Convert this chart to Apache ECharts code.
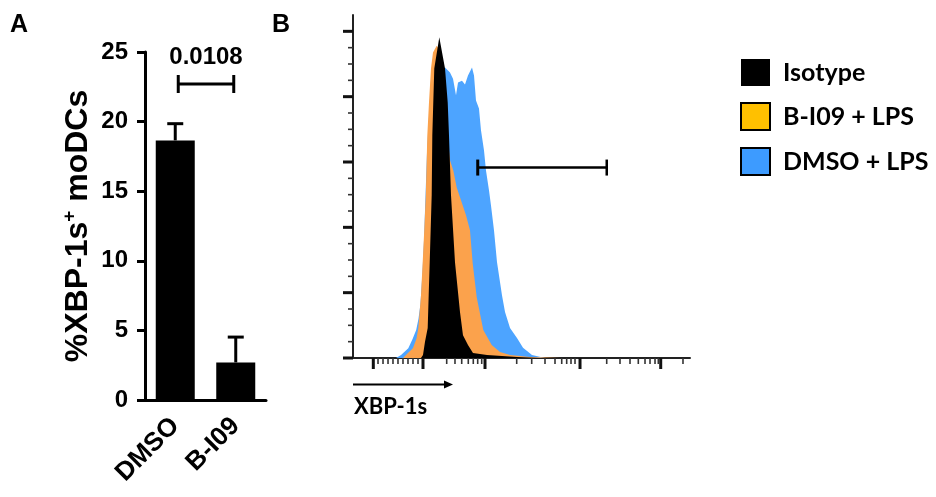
<!DOCTYPE html>
<html>
<head>
<meta charset="utf-8">
<script src="https://cdn.jsdelivr.net/npm/echarts@6/dist/echarts.min.js"></script>
<style>
  html, body { margin: 0; padding: 0; background: #fff; }
  #chart { width: 936px; height: 497px; }
</style>
</head>
<body>
<div id="chart"></div>
<script>
// ---- Panel A: % XBP-1s+ moDCs (mean + SEM) ----
const groups = ['DMSO', 'B-I09'];
const meanPct = [18.65, 2.7];
const semPct = [1.2, 1.82];
const yTicksA = [0, 5, 10, 15, 20, 25];
const pValue = '0.0108';
const bracketLevel = 22.7;

// ---- Panel B: XBP-1s histograms, [channel, % of max] ----
const isotype = [
  [206.6, 0], [212.7, 0.9], [218.8, 5.0], [227, 9.2], [230, 19.3], [233.1, 29.3],
  [239.1, 49.8], [241, 68.1], [247, 88.6], [262.2, 98.2], [279.6, 88.6], [287.8, 78.2],
  [291.7, 68.1], [297.8, 49.8], [309.9, 29.3], [325.1, 14.1], [334.2, 7.0], [349.4, 4.0],
  [364.6, 1.5], [407.2, 0.9], [498.3, 0.3], [568.2, 0]
];
const bi09Lps = [
  [152, 0], [167, 1.5], [182, 3.0], [193, 6.0], [198.4, 9.1], [206.6, 19.2],
  [211.8, 29.4], [216.7, 39.6], [221.2, 49.8], [225.8, 68.1], [230.9, 78.2],
  [237, 88.6], [243.1, 93.5], [254.3, 95.6], [264.4, 94.1], [279.6, 81.9], [288.7, 66.6],
  [294.7, 60.5], [304.8, 57.4], [315.1, 52.2], [325.1, 49.2], [343.4, 43.7], [355.5, 39.1],
  [363.7, 29.0], [375.9, 18.6], [395.9, 8.6], [421.5, 4.0], [446.7, 1.8], [477.1, 0.9],
  [537.8, 0.3], [629, 0]
];
const dmsoLps = [
  [130.7, 0], [146, 0.9], [168, 3.0], [181, 5.8], [192, 8.6], [199, 12.0],
  [205, 16.5], [211, 26], [215.7, 36], [224.9, 63], [237, 85], [252, 90], [267.4, 88],
  [279.6, 88.9], [294.7, 87.4], [303.9, 85.5], [313, 80.4], [319.1, 84.3], [331.2, 84.9],
  [340.3, 83.7], [349.4, 86.5], [361.6, 88.9], [367.7, 86.5], [373.7, 78.8], [382.8, 76.4],
  [388.9, 69.7], [398, 63.6], [404.1, 57.4], [413.3, 51.3], [419.3, 46.7], [428.4, 39.1],
  [437.6, 29.3], [452.7, 19.2], [461.9, 14.1], [477.1, 9.2], [498.3, 6.1], [516.6, 3.1],
  [543.9, 0.9], [583.4, 0]
];
const gateRange = [379, 771];
const gateLevel = 58.3;

// Biexponential-style axis tick marks (channel units) and count-axis ticks (%)
const xMajorTicks = [61.7, 212.7, 401.1, 689.8, 935.0];
const xMinorTicks = [
  76, 91.2, 106.4, 121.5, 136.7, 151.9, 167.1, 182.3, 197.5,
  284.7, 309.9, 330.3, 350.3, 365.5, 378.9, 391.1,
  497.4, 543, 583.4, 613.8, 634.2, 649.3, 662.4, 674.6,
  770.9, 811.3, 841.7, 866.9, 887.3, 902.5, 917.7, 927.7,
  1002.7
];
const yMajorTicks = [0, 20, 40, 60, 80, 100];
const yMinorTicks = [5, 10, 15, 25, 30, 35, 45, 50, 55, 65, 70, 75, 85, 90, 95];

const seriesNames = ['Isotype', 'B-I09 + LPS', 'DMSO + LPS'];
const fillColors = ['#000000', '#FBA24C', '#4DA4FF'];
const legendColors = ['#000000', '#FFC000', '#3D9BFF'];

const ARIAL = '"Liberation Sans", Arial, sans-serif';
const HUMANIST = 'Lato, "Open Sans", sans-serif';

const chart = echarts.init(document.getElementById('chart'), null, { renderer: 'canvas' });

const tickData = []
  .concat(xMajorTicks.map(v => [0, v, 1]))
  .concat(xMinorTicks.map(v => [0, v, 0]))
  .concat(yMajorTicks.map(v => [1, v, 1]))
  .concat(yMinorTicks.map(v => [1, v, 0]));

const option = {
  animation: false,
  backgroundColor: '#ffffff',
  grid: [
    { left: 145, right: 670, top: 52, bottom: 97 },
    { left: 353, right: 246, top: 15, bottom: 139 }
  ],
  xAxis: [
    {
      gridIndex: 0, type: 'category', data: groups,
      axisLine: { lineStyle: { color: '#000', width: 3 } },
      axisTick: { show: false },
      axisLabel: {
        rotate: 45, margin: 22, color: '#000',
        fontFamily: ARIAL, fontWeight: 'bold', fontSize: 26
      }
    },
    {
      gridIndex: 1, type: 'value', min: 0, max: 1024,
      axisLine: { onZero: false, lineStyle: { color: '#222', width: 2 } },
      axisTick: { show: false }, axisLabel: { show: false }, splitLine: { show: false }
    }
  ],
  yAxis: [
    {
      gridIndex: 0, type: 'value',
      min: yTicksA[0], max: yTicksA[yTicksA.length - 1], interval: yTicksA[1] - yTicksA[0],
      axisLine: { show: true, lineStyle: { color: '#000', width: 3 } },
      axisTick: { show: true, length: 8, lineStyle: { color: '#000', width: 3 } },
      axisLabel: {
        margin: 17, color: '#000',
        fontFamily: ARIAL, fontWeight: 'bold', fontSize: 24
      },
      splitLine: { show: false },
      name: '{a|%XBP-1s}{sup|+}{a| moDCs}',
      nameLocation: 'middle', nameRotate: 90, nameGap: 49,
      nameTextStyle: {
        rich: {
          a: { fontFamily: ARIAL, fontWeight: 'bold', fontSize: 32, color: '#000', lineHeight: 36 },
          sup: { fontFamily: ARIAL, fontWeight: 'bold', fontSize: 19, color: '#000', verticalAlign: 'top', lineHeight: 36 }
        }
      }
    },
    {
      gridIndex: 1, type: 'value', min: 0, max: 105,
      axisLine: { show: true, onZero: false, lineStyle: { color: '#222', width: 2 } },
      axisTick: { show: false }, axisLabel: { show: false }, splitLine: { show: false }
    }
  ],
  legend: {
    orient: 'vertical', left: 740, top: 59, padding: 0,
    itemWidth: 29, itemHeight: 27, itemGap: 16,
    icon: 'rect', selectedMode: false,
    textStyle: { fontFamily: HUMANIST, fontWeight: 'bold', fontSize: 25, color: '#000', padding: [0, 0, 0, 8] },
    data: [
      { name: seriesNames[0], itemStyle: { color: legendColors[0], borderWidth: 0 } },
      { name: seriesNames[1], itemStyle: { color: legendColors[1], borderColor: '#000', borderWidth: 2 } },
      { name: seriesNames[2], itemStyle: { color: legendColors[2], borderColor: '#000', borderWidth: 2 } }
    ]
  },
  series: [
    // Panel A bars
    {
      type: 'bar', xAxisIndex: 0, yAxisIndex: 0, data: meanPct, barWidth: 39,
      itemStyle: { color: '#000' }, silent: true
    },
    // Panel A SEM whiskers
    {
      type: 'custom', xAxisIndex: 0, yAxisIndex: 0, silent: true, z: 3,
      data: groups.map((g, i) => [i, meanPct[i], meanPct[i] + semPct[i]]),
      renderItem: function (params, api) {
        const base = api.coord([api.value(0), api.value(1)]);
        const top = api.coord([api.value(0), api.value(2)]);
        const w = 8;
        const style = { stroke: '#000', lineWidth: 3 };
        return {
          type: 'group', children: [
            { type: 'line', shape: { x1: top[0], y1: base[1], x2: top[0], y2: top[1] }, style: style },
            { type: 'line', shape: { x1: top[0] - w, y1: top[1], x2: top[0] + w, y2: top[1] }, style: style }
          ]
        };
      }
    },
    // Panel A significance bracket and p value
    {
      type: 'custom', xAxisIndex: 0, yAxisIndex: 0, silent: true, z: 3,
      data: [[0, 1, bracketLevel]],
      renderItem: function (params, api) {
        const a = api.coord([api.value(0), api.value(2)]);
        const b = api.coord([api.value(1), api.value(2)]);
        const x1 = a[0] + 3, x2 = b[0] - 2, y = a[1];
        const style = { stroke: '#000', lineWidth: 3 };
        return {
          type: 'group', children: [
            { type: 'line', shape: { x1: x1, y1: y, x2: x2, y2: y }, style: style },
            { type: 'line', shape: { x1: x1, y1: y - 9, x2: x1, y2: y + 9 }, style: style },
            { type: 'line', shape: { x1: x2, y1: y - 9, x2: x2, y2: y + 9 }, style: style },
            {
              type: 'text',
              style: {
                x: (x1 + x2) / 2, y: y - 27, text: pValue, align: 'center', verticalAlign: 'middle',
                fill: '#000', font: 'bold 24px ' + ARIAL
              }
            }
          ]
        };
      }
    },
    // Panel B histograms (back to front)
    {
      type: 'line', name: seriesNames[2], xAxisIndex: 1, yAxisIndex: 1, data: dmsoLps,
      symbol: 'none', showSymbol: false, silent: true, z: 2,
      lineStyle: { width: 0, color: fillColors[2] }, itemStyle: { color: fillColors[2] },
      areaStyle: { color: fillColors[2], opacity: 1 }
    },
    {
      type: 'line', name: seriesNames[1], xAxisIndex: 1, yAxisIndex: 1, data: bi09Lps,
      symbol: 'none', showSymbol: false, silent: true, z: 3,
      lineStyle: { width: 0, color: fillColors[1] }, itemStyle: { color: fillColors[1] },
      areaStyle: { color: fillColors[1], opacity: 1 }
    },
    {
      type: 'line', name: seriesNames[0], xAxisIndex: 1, yAxisIndex: 1, data: isotype,
      symbol: 'none', showSymbol: false, silent: true, z: 4,
      lineStyle: { width: 0, color: fillColors[0] }, itemStyle: { color: fillColors[0] },
      areaStyle: { color: fillColors[0], opacity: 1 }
    },
    // Panel B gate
    {
      type: 'custom', xAxisIndex: 1, yAxisIndex: 1, silent: true, z: 6,
      data: [[gateRange[0], gateRange[1], gateLevel]],
      renderItem: function (params, api) {
        const a = api.coord([api.value(0), api.value(2)]);
        const b = api.coord([api.value(1), api.value(2)]);
        const style = { stroke: '#000', lineWidth: 2.5 };
        return {
          type: 'group', children: [
            { type: 'line', shape: { x1: a[0], y1: a[1], x2: b[0], y2: b[1] }, style: style },
            { type: 'line', shape: { x1: a[0], y1: a[1] - 8, x2: a[0], y2: a[1] + 8 }, style: { stroke: '#000', lineWidth: 3 } },
            { type: 'line', shape: { x1: b[0], y1: b[1] - 8, x2: b[0], y2: b[1] + 8 }, style: style }
          ]
        };
      }
    },
    // Panel B axis tick marks
    {
      type: 'custom', xAxisIndex: 1, yAxisIndex: 1, silent: true, z: 1, clip: false,
      data: tickData,
      renderItem: function (params, api) {
        const isY = api.value(0) === 1;
        const v = api.value(1);
        const major = api.value(2) === 1;
        const len = major ? 10 : 5;
        const style = { stroke: major ? '#111' : '#333', lineWidth: major ? 3 : 1.6 };
        if (isY) {
          const p = api.coord([0, v]);
          return { type: 'line', shape: { x1: p[0] - len, y1: p[1], x2: p[0], y2: p[1] }, style: style };
        }
        const p = api.coord([v, 0]);
        return { type: 'line', shape: { x1: p[0], y1: p[1], x2: p[0], y2: p[1] + len + 1 }, style: style };
      }
    }
  ],
  graphic: [
    { type: 'text', left: 10, top: 13, style: { text: 'A', font: 'bold 25px ' + ARIAL, fill: '#000' } },
    { type: 'text', left: 272, top: 13, style: { text: 'B', font: 'bold 25px ' + ARIAL, fill: '#000' } },
    { type: 'line', shape: { x1: 353, y1: 384.5, x2: 446, y2: 384.5 }, style: { stroke: '#000', lineWidth: 2 } },
    { type: 'polygon', shape: { points: [[444, 380.5], [453, 384.5], [444, 388.5]] }, style: { fill: '#000' } },
    { type: 'text', left: 354, top: 396, style: { text: 'XBP-1s', font: 'bold 22px ' + HUMANIST, fill: '#000' } }
  ]
};

chart.setOption(option);
</script>
</body>
</html>
